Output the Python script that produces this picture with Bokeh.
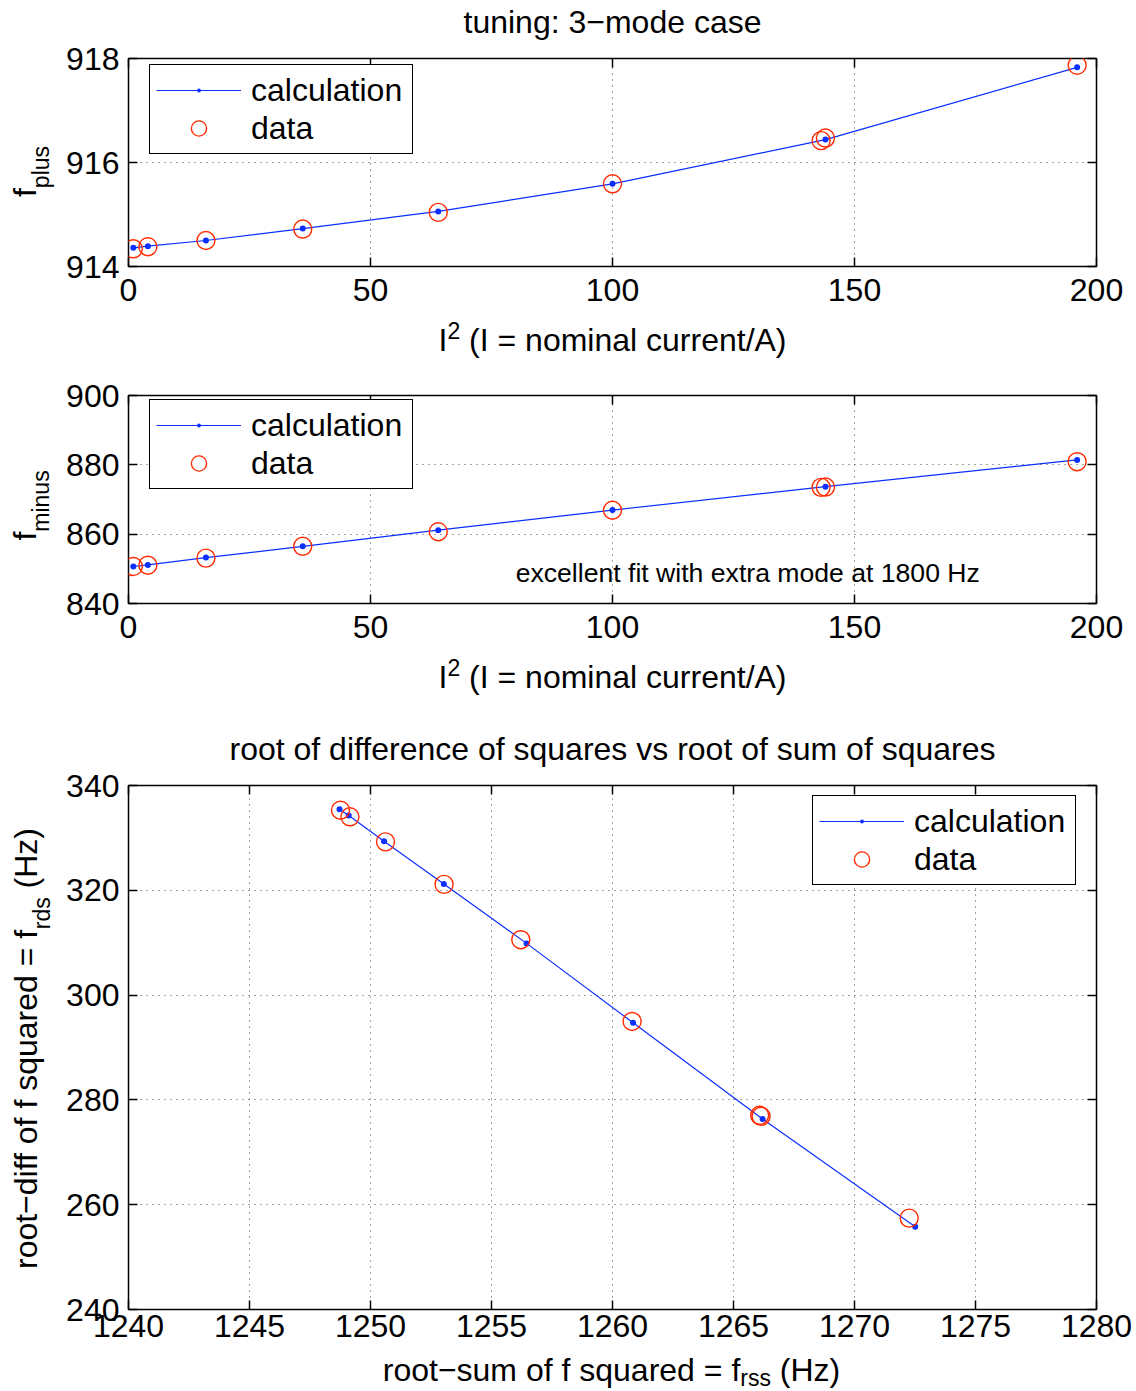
import math
from bokeh.plotting import figure
from bokeh.models import (Range1d, FixedTicker, LinearAxis, Label, Legend,
                          LegendItem, CustomJSTickFormatter)
from bokeh.layouts import column, row
from bokeh.embed import file_html
from bokeh.resources import INLINE

# ---------------- data ----------------
i2_calc = [1, 4, 16, 36, 64, 100, 144, 196]
fplus_calc = [914.36, 914.39, 914.50, 914.73, 915.06, 915.59, 916.44, 917.83]
fminus_calc = [850.67, 851.14, 853.24, 856.48, 861.14, 866.95, 873.71, 881.43]

i2_data = [1, 4, 16, 36, 64, 100, 143.1, 144, 196]
fplus_data = [914.34, 914.38, 914.50, 914.72, 915.04, 915.59, 916.42, 916.47, 917.87]
fminus_data = [850.67, 851.05, 853.10, 856.50, 860.70, 866.90, 873.50, 873.60, 880.90]

rss_calc = [1248.72, 1249.10, 1250.56, 1253.03, 1256.45, 1260.85, 1266.20, 1272.51]
rds_calc = [335.47, 334.28, 329.37, 321.19, 309.87, 294.72, 276.36, 255.78]
rss_data = [1248.76, 1249.15, 1250.62, 1253.04, 1256.21, 1260.81, 1266.08, 1266.14, 1272.26]
rds_data = [335.28, 334.03, 329.25, 321.13, 310.57, 294.97, 277.06, 276.87, 257.44]

x1_ticks = [0, 50, 100, 150, 200]
y1_ticks = [914, 916, 918]
y2_ticks = [840, 860, 880, 900]
x3_ticks = [1240, 1245, 1250, 1255, 1260, 1265, 1270, 1275, 1280]
y3_ticks = [240, 260, 280, 300, 320, 340]

legend_labels = ["calculation", "data"]
title1 = "tuning: 3\u2212mode case"
title3 = "root of difference of squares vs root of sum of squares"
note2 = "excellent fit with extra mode at 1800 Hz"

# ---------------- style ----------------
FONT = "Liberation Sans"
FS = 32
SUB = 23
BLUE = "#0b2fff"
RED = "#ff2a00"
GRID = "#444444"
PAGE_W = 1136
LEFT_W = 60          # width of the strip that carries the y labels
FRAME_L = 128        # frame left edge on the page
FRAME_W = 968
MID = 0.375          # baseline-to-middle distance, in em

# approximate Arial / Liberation Sans advance widths (em)
W = {' ': .278, '(': .333, ')': .333, '=': .584, '/': .278, '\u2212': .584,
     ':': .278, 'A': .667, 'H': .722, 'I': .278, 'a': .556, 'c': .5, 'd': .556,
     'e': .556, 'f': .278, 'i': .222, 'l': .222, 'm': .833, 'n': .556, 'o': .556,
     'p': .556, 'q': .556, 'r': .333, 's': .5, 't': .278, 'u': .556, 'z': .5}


def tw(s, size):
    return sum(W.get(ch, .556) for ch in s) * size


# ---------------- text carriers ----------------
class TextFig:
    def __init__(self, ox, oy, w, h):
        self.ox, self.oy = ox, oy
        self.p = figure(width=w, height=h, frame_width=w, frame_height=h,
                        x_range=Range1d(0, w), y_range=Range1d(h, 0),
                        x_axis_type=None, y_axis_type=None, title=None,
                        min_border=0, min_border_left=0, min_border_right=0,
                        min_border_top=0, min_border_bottom=0,
                        output_backend="svg", toolbar_location=None,
                        outline_line_color=None, background_fill_color="white",
                        border_fill_color="white")

    def text(self, sx, sy, text, size, align="left", angle=0.0):
        # sx, sy: page position of the text baseline
        if angle:
            sx = sx - MID * size
        else:
            sy = sy - MID * size
        self.p.add_layout(Label(x=sx - self.ox, y=sy - self.oy, text=text,
                                text_font=FONT, text_font_size=f"{size}px",
                                text_color="black", text_align=align,
                                text_baseline="middle", angle=angle))

    def rich_h(self, sx_center, sy_base, pieces):
        total = sum(tw(t, s) for t, s, _ in pieces)
        x = sx_center - total / 2
        for t, s, shift in pieces:
            st = t.lstrip(' ')
            x += tw(' ' * (len(t) - len(st)), s)
            self.text(x, sy_base + shift, st, s)
            x += tw(st, s)

    def rich_v(self, sx_base, sy_center, pieces):
        total = sum(tw(t, s) for t, s, _ in pieces)
        y = sy_center + total / 2
        for t, s, shift in pieces:
            st = t.lstrip(' ')
            y -= tw(' ' * (len(t) - len(st)), s)
            self.text(sx_base + shift, y, st, s, angle=math.pi / 2)
            y -= tw(st, s)


# ---------------- plots ----------------
def make_fig(xr, yr, ctop, ftop, fh, cbot, xticks, yticks, xstandoff):
    p = figure(width=PAGE_W - LEFT_W, height=cbot - ctop,
               frame_width=FRAME_W, frame_height=fh,
               x_range=Range1d(*xr), y_range=Range1d(*yr),
               min_border_left=FRAME_L - LEFT_W,
               min_border_right=PAGE_W - FRAME_L - FRAME_W,
               min_border_top=ftop - ctop, min_border_bottom=cbot - ftop - fh,
               output_backend="svg", toolbar_location=None, title=None,
               background_fill_color="white", border_fill_color="white")
    p.add_layout(LinearAxis(), "above")
    p.add_layout(LinearAxis(), "right")
    for ax in p.axis:
        ax.axis_line_color = None
        ax.major_tick_in = 9
        ax.major_tick_out = 0
        ax.major_tick_line_color = "black"
        ax.major_tick_line_width = 1.5
        ax.minor_tick_line_color = None
        ax.major_label_text_font = FONT
        ax.major_label_text_font_size = f"{FS}px"
        ax.major_label_text_color = "black"
    p.below[0].ticker = FixedTicker(ticks=xticks)
    p.above[0].ticker = FixedTicker(ticks=xticks)
    p.left[0].ticker = FixedTicker(ticks=yticks)
    p.right[0].ticker = FixedTicker(ticks=yticks)
    p.below[0].major_label_standoff = xstandoff
    p.left[0].major_label_standoff = 9
    for ax in (p.above[0], p.right[0]):
        ax.formatter = CustomJSTickFormatter(code="return ''")
        ax.major_label_text_font_size = "1px"
        ax.major_label_standoff = 0
    for g in (p.xgrid[0], p.ygrid[0]):
        g.grid_line_color = GRID
        g.grid_line_dash = "1 5"
        g.grid_line_width = 1
    p.outline_line_color = "black"
    p.outline_line_width = 1.5
    p.outline_line_alpha = 1
    return p


def add_series(p, fh, xc, yc, xd, yd, leg_x, leg_top):
    l1 = p.line(xc, yc, line_color=BLUE, line_width=1.2)
    d1 = p.scatter(xc, yc, marker="dot", size=24, fill_color=BLUE, line_color=BLUE)
    c1 = p.scatter(xd, yd, marker="circle", size=18, fill_color=None,
                   line_color=RED, line_width=1.4)
    leg_h = 88
    legend = Legend(items=[LegendItem(label=legend_labels[0], renderers=[l1, d1]),
                           LegendItem(label=legend_labels[1], renderers=[c1])],
                    location=(leg_x, fh - leg_top - leg_h), padding=6, spacing=0,
                    margin=0, glyph_width=85, glyph_height=38, label_height=38,
                    label_standoff=10, label_width=155,
                    label_text_font=FONT, label_text_font_size=f"{FS}px",
                    label_text_color="black",
                    border_line_color="black", border_line_width=1.8,
                    border_line_alpha=1,
                    background_fill_color="white", background_fill_alpha=1)
    p.add_layout(legend)


# band A: title of the top plot (page y 0..40)
tA = TextFig(0, 0, PAGE_W, 40)
tA.text(612, 33, title1, FS, align="center")

# row 1 (page y 40..316, frame 58..266)
L1 = TextFig(0, 40, LEFT_W, 276)
L1.rich_v(36, 153, [("f", FS, 0), ("plus", SUB, 13)])
p1 = make_fig((0, 200), (914, 918), 40, 58, 208, 316, x1_ticks, y1_ticks, 12)
add_series(p1, 208, i2_calc, fplus_calc, i2_data, fplus_data, 21, 8)

# band B: x label of the top plot (page y 316..375)
tB = TextFig(0, 316, PAGE_W, 59)
tB.rich_h(612, 351, [("I", FS, 0), ("2", SUB, -12), (" (I = nominal current/A)", FS, 0)])

# row 2 (page y 375..653, frame 395..603)
L2 = TextFig(0, 375, LEFT_W, 278)
L2.rich_v(36, 485, [("f", FS, 0), ("minus", SUB, 13)])
p2 = make_fig((0, 200), (840, 900), 375, 395, 208, 653, x1_ticks, y2_ticks, 12)
add_series(p2, 208, i2_calc, fminus_calc, i2_data, fminus_data, 21, 6)
p2.add_layout(Label(x=80, y=848.9, text=note2, text_font=FONT, text_font_size="26.6px",
                    text_color="black", text_align="left", text_baseline="middle"))

# band C: x label of plot 2 and title of plot 3 (page y 653..767)
tC = TextFig(0, 653, PAGE_W, 114)
tC.rich_h(612, 688, [("I", FS, 0), ("2", SUB, -12), (" (I = nominal current/A)", FS, 0)])
tC.text(612, 760, title3, FS, align="center")

# row 3 (page y 767..1351, frame 785..1309)
L3 = TextFig(0, 767, LEFT_W, 584)
L3.rich_v(37, 1030, [("root\u2212diff of f squared = f", FS, 0), ("rds", SUB, 13),
                     (" (Hz)", FS, 0)])
p3 = make_fig((1240, 1280), (240, 340), 767, 785, 524, 1351, x3_ticks, y3_ticks, 5)
add_series(p3, 524, rss_calc, rds_calc, rss_data, rds_data, 684, 12)

# band D: x label of plot 3 (page y 1351..1391)
tD = TextFig(0, 1351, PAGE_W, 40)
tD.rich_h(611, 1381, [("root\u2212sum of f squared = f", FS, 0), ("rss", SUB, 5),
                      (" (Hz)", FS, 0)])

layout = column(tA.p,
                row(L1.p, p1, spacing=0),
                tB.p,
                row(L2.p, p2, spacing=0),
                tC.p,
                row(L3.p, p3, spacing=0),
                tD.p,
                spacing=0)
open("out.html", "w").write(file_html(layout, INLINE))
